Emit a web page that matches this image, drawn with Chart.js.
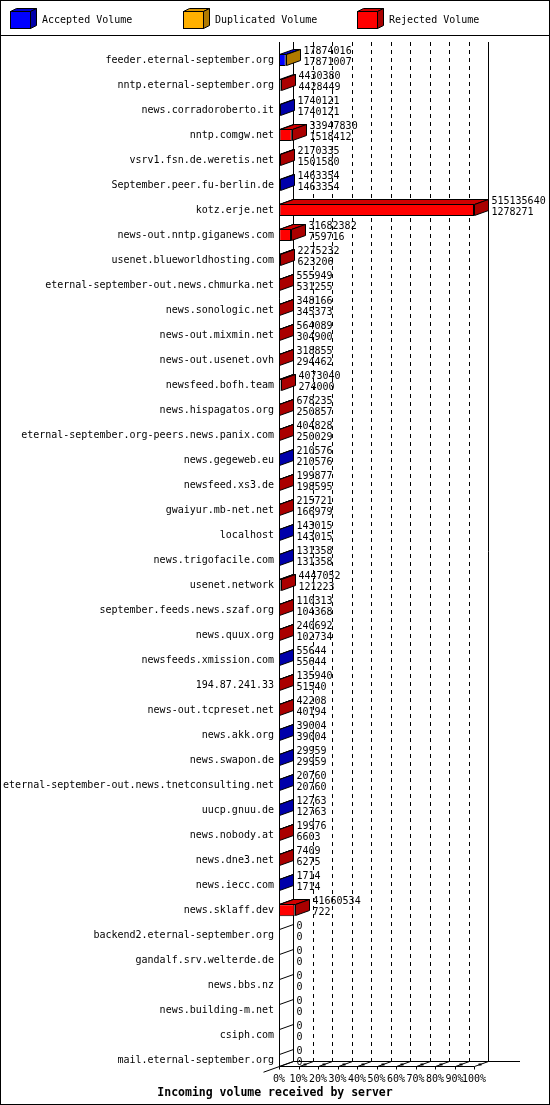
<!DOCTYPE html>
<html>
<head>
<meta charset="utf-8">
<title>Incoming volume received by server</title>
<script src="https://cdn.jsdelivr.net/npm/chart.js@4/dist/chart.umd.min.js"></script>
<style>
  html, body { margin: 0; padding: 0; background: #fff; }
  canvas { display: block; }
</style>
</head>
<body>
<canvas id="chart" width="550" height="1105"></canvas>
<script>
const servers = [
  "feeder.eternal-september.org", "nntp.eternal-september.org", "news.corradoroberto.it",
  "nntp.comgw.net", "vsrv1.fsn.de.weretis.net", "September.peer.fu-berlin.de",
  "kotz.erje.net", "news-out.nntp.giganews.com", "usenet.blueworldhosting.com",
  "eternal-september-out.news.chmurka.net", "news.sonologic.net", "news-out.mixmin.net",
  "news-out.usenet.ovh", "newsfeed.bofh.team", "news.hispagatos.org",
  "eternal-september.org-peers.news.panix.com", "news.gegeweb.eu", "newsfeed.xs3.de",
  "gwaiyur.mb-net.net", "localhost", "news.trigofacile.com",
  "usenet.network", "september.feeds.news.szaf.org", "news.quux.org",
  "newsfeeds.xmission.com", "194.87.241.33", "news-out.tcpreset.net",
  "news.akk.org", "news.swapon.de", "eternal-september-out.news.tnetconsulting.net",
  "uucp.gnuu.de", "news.nobody.at", "news.dne3.net",
  "news.iecc.com", "news.sklaff.dev", "backend2.eternal-september.org",
  "gandalf.srv.welterde.de", "news.bbs.nz", "news.building-m.net",
  "csiph.com", "mail.eternal-september.org"
];

// first number printed next to each bar
const totalVolume = [
  17874016, 4430380, 1740121, 33947830, 2170335, 1463354,
  515135640, 31682382, 2275232, 555949, 348166, 564089,
  318855, 4073040, 678235, 404828, 210576, 199877,
  215721, 143015, 131358, 4447052, 110313, 240692,
  55644, 135940, 42208, 39004, 29959, 20760,
  12763, 19976, 7409, 1714, 41660534, 0,
  0, 0, 0, 0, 0
];

// second number printed next to each bar
const acceptedVolume = [
  17871007, 4428449, 1740121, 1518412, 1501580, 1463354,
  1278271, 759716, 623206, 531255, 345373, 304900,
  294462, 274000, 250857, 250029, 210576, 198595,
  166979, 143015, 131358, 121223, 104368, 102734,
  55644, 51540, 40194, 39004, 29959, 20760,
  12763, 6603, 6275, 1714, 722, 0,
  0, 0, 0, 0, 0
];

const duplicatedVolume = [
  3009, 0, 0, 0, 0, 0,
  0, 0, 0, 0, 0, 0,
  0, 0, 0, 0, 0, 0,
  0, 0, 0, 0, 0, 0,
  0, 0, 0, 0, 0, 0,
  0, 0, 0, 0, 0, 0,
  0, 0, 0, 0, 0
];

const rejectedVolume = [
  0, 1931, 0, 32429418, 668755, 0,
  513857369, 30922666, 1652026, 24694, 2793, 259189,
  24393, 3799040, 427378, 154799, 0, 1282,
  48742, 0, 0, 4325829, 5945, 137958,
  0, 84400, 2014, 0, 0, 0,
  0, 13373, 1134, 0, 41659812, 0,
  0, 0, 0, 0, 0
];

const seriesNames = ["Accepted Volume", "Duplicated Volume", "Rejected Volume"];
const xMax = Math.max(...totalVolume);

const FONT = '"DejaVu Sans Mono", "Liberation Mono", monospace';
const DX = 14;
const DY = 5;
const BAR_H = 12;

const shades = [
  { front: "#0000ff", top: "#0000d0", side: "#0000aa" },
  { front: "#ffb000", top: "#d99500", side: "#b07a00" },
  { front: "#ff0000", top: "#d00000", side: "#aa0000" }
];

function px(v) {
  return Math.round(v) + 0.5;
}

function poly(ctx, pts, fill) {
  ctx.beginPath();
  ctx.moveTo(pts[0][0], pts[0][1]);
  for (let i = 1; i < pts.length; i += 1) ctx.lineTo(pts[i][0], pts[i][1]);
  ctx.closePath();
  if (fill) {
    ctx.fillStyle = fill;
    ctx.fill();
  }
  ctx.stroke();
}

function line(ctx, x1, y1, x2, y2) {
  ctx.beginPath();
  ctx.moveTo(x1, y1);
  ctx.lineTo(x2, y2);
  ctx.stroke();
}

const faces3d = {
  id: "faces3d",
  beforeDatasetsDraw(chart) {
    const { ctx, chartArea } = chart;
    const xs = chart.scales.x;
    const ys = chart.scales.y;
    const x0 = px(xs.getPixelForValue(0));
    const x1 = px(xs.getPixelForValue(xMax));
    const top = Math.round(chartArea.top - DY - 1);
    const floorF = px(ys.getPixelForValue(servers.length - 1) + BAR_H / 2);
    const floorB = floorF - DY;

    ctx.save();
    ctx.strokeStyle = "#000";
    ctx.lineWidth = 1;

    // back wall grid
    ctx.setLineDash([4, 4]);
    xs.ticks.forEach((t) => {
      if (t.value <= 0 || t.value >= xMax) return;
      const gx = px(xs.getPixelForValue(t.value)) + DX;
      line(ctx, gx, top, gx, floorB);
    });
    ctx.setLineDash([]);
    line(ctx, x0, top, x0, floorF);
    line(ctx, x0 + DX, top, x0 + DX, floorB);
    line(ctx, x1 + DX, top, x1 + DX, floorB);

    // floor
    line(ctx, x0, floorF, x1, floorF);
    line(ctx, x0 + DX, floorB, chart.width - 30, floorB);
    line(ctx, x0 + DX, floorB, x0 - 16, floorF + 16 * DY / DX);
    xs.ticks.forEach((t) => {
      const tx = px(xs.getPixelForValue(t.value));
      line(ctx, tx, floorF, tx + DX, floorB);
      line(ctx, tx, floorF, tx, floorF + 3);
      if (t.value > 0) {
        ctx.fillStyle = "#000";
        ctx.fillRect(tx + 4, floorF - 3, 3, 2);
      }
    });
    ctx.restore();
  },
  afterDatasetsDraw(chart) {
    const { ctx } = chart;
    const xs = chart.scales.x;
    const ys = chart.scales.y;
    const metas = chart.data.datasets.map((_, i) => chart.getDatasetMeta(i));

    ctx.save();
    ctx.strokeStyle = "#000";
    ctx.lineWidth = 1;

    servers.forEach((name, row) => {
      const cy = ys.getPixelForValue(row);
      const yTop = px(cy - BAR_H / 2);
      const yBot = px(cy + BAR_H / 2) - 1;
      let endX = null;
      let endShade = null;

      metas.forEach((meta, di) => {
        const value = chart.data.datasets[di].data[row];
        if (!value) return;
        const el = meta.data[row];
        const { x, base } = el.getProps(["x", "base"], true);
        const a = px(Math.min(x, base));
        const b = px(Math.max(x, base));
        poly(ctx, [[a, yTop], [a + DX, yTop - DY], [b + DX, yTop - DY], [b, yTop]], shades[di].top);
        if (endX === null || b >= endX) {
          endX = b;
          endShade = shades[di];
        }
      });

      const x0 = px(xs.getPixelForValue(0));
      if (endX === null) {
        line(ctx, x0, yTop, x0 + DX, yTop - DY);
        endX = x0;
      } else {
        poly(ctx, [[endX, yTop], [endX + DX, yTop - DY], [endX + DX, yBot - DY], [endX, yBot]], endShade.side);
      }

      const tx = Math.max(px(xs.getPixelForValue(totalVolume[row])), endX) + DX + 3;
      ctx.fillStyle = "#000";
      ctx.font = "10px " + FONT;
      ctx.textAlign = "left";
      ctx.textBaseline = "middle";
      ctx.fillText(String(totalVolume[row]), tx, cy - 9);
      ctx.fillText(String(acceptedVolume[row]), tx, cy + 2.5);
    });
    ctx.restore();
  },
  afterDraw(chart) {
    const { ctx } = chart;
    ctx.save();
    ctx.strokeStyle = "#000";
    ctx.lineWidth = 1;

    // legend
    const legendX = [10, 183, 357];
    chart.data.datasets.forEach((ds, i) => {
      const lx = legendX[i] + 0.5;
      const ly = 11.5;
      const w = 20;
      const h = 17;
      const d = 6;
      const e = 3;
      ctx.fillStyle = shades[i].front;
      ctx.fillRect(lx, ly, w, h);
      ctx.strokeRect(lx, ly, w, h);
      poly(ctx, [[lx, ly], [lx + d, ly - e], [lx + w + d, ly - e], [lx + w, ly]], shades[i].top);
      poly(ctx, [[lx + w, ly], [lx + w + d, ly - e], [lx + w + d, ly + h - e], [lx + w, ly + h]], shades[i].side);
      ctx.fillStyle = "#000";
      ctx.font = "10px " + FONT;
      ctx.textAlign = "left";
      ctx.textBaseline = "middle";
      ctx.fillText(ds.label, legendX[i] + 32, 20);
    });
    line(ctx, 0, 35.5, chart.width, 35.5);
    ctx.strokeRect(0.5, 0.5, chart.width - 1, chart.height - 1);
    ctx.restore();
  }
};

new Chart(document.getElementById("chart"), {
  type: "bar",
  data: {
    labels: servers,
    datasets: [
      { label: seriesNames[0], data: acceptedVolume, backgroundColor: shades[0].front },
      { label: seriesNames[1], data: duplicatedVolume, backgroundColor: shades[1].front },
      { label: seriesNames[2], data: rejectedVolume, backgroundColor: shades[2].front }
    ].map((ds) => ({
      ...ds,
      borderColor: "#000",
      borderWidth: 1,
      borderSkipped: false,
      barThickness: BAR_H,
      inflateAmount: 0
    }))
  },
  options: {
    indexAxis: "y",
    responsive: false,
    animation: false,
    devicePixelRatio: 1,
    layout: { padding: { top: 47.5, right: 0, left: 0, bottom: 5 } },
    scales: {
      x: {
        stacked: true,
        min: 0,
        max: xMax,
        grid: { display: false, drawTicks: false },
        border: { display: false },
        afterFit: (scale) => { scale.height = 13.5; },
        ticks: {
          stepSize: xMax / 10,
          autoSkip: false,
          maxRotation: 0,
          minRotation: 0,
          padding: 1,
          color: "#000",
          font: { family: FONT, size: 10 },
          callback: (value) => Math.round((value / xMax) * 100) + "%"
        }
      },
      y: {
        stacked: true,
        grid: { display: false, drawTicks: false },
        border: { display: false },
        afterFit: (scale) => { scale.width = 279; },
        ticks: {
          autoSkip: false,
          padding: 5,
          color: "#000",
          font: { family: FONT, size: 10 }
        }
      },
      // empty right-hand axis keeps room for the 3D depth and value labels
      yRight: {
        type: "category",
        position: "right",
        grid: { display: false, drawTicks: false },
        border: { display: false },
        ticks: { display: false },
        afterFit: (scale) => { scale.width = 76; }
      }
    },
    plugins: {
      legend: { display: false },
      tooltip: { enabled: false },
      title: {
        display: true,
        position: "bottom",
        text: "Incoming volume received by server",
        color: "#000",
        padding: { top: 0, bottom: 0 },
        font: { family: FONT, size: 11.5, weight: "bold" }
      }
    }
  },
  plugins: [faces3d]
});
</script>
</body>
</html>
